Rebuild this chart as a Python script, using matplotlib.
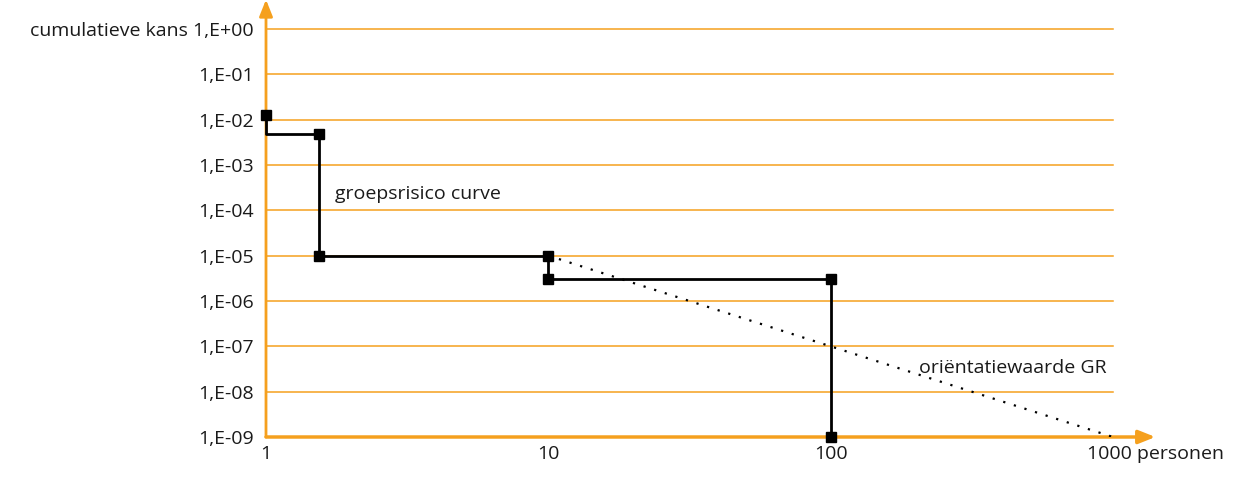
import matplotlib
matplotlib.use("Agg")
from matplotlib import pyplot as plt
from matplotlib import transforms

# step curve (personen, cumulatieve kans)
curve_x = [1, 1, 1.54, 1.54, 10, 10, 100, 100]
curve_y = [1.3e-2, 4.8e-3, 4.8e-3, 1e-5, 1e-5, 3e-6, 3e-6, 1e-9]
marker_x = [1, 1.54, 1.54, 10, 10, 100, 100]
marker_y = [1.3e-2, 4.8e-3, 1e-5, 1e-5, 3e-6, 3e-6, 1e-9]

# orientatiewaarde line
orient_x = [10, 1000]
orient_y = [1e-5, 1e-9]

y_ticks = [10.0 ** -k for k in range(10)]
y_labels = ["cumulatieve kans 1,E+00"] + ["1,E-%02d" % k for k in range(1, 10)]
x_ticks = [1, 10, 100, 1000]
x_labels = ["1", "10", "100", "1000 personen"]

orange = "#F5A01E"
text_col = "#1a1a1a"
fs = 14
plt.rcParams["font.family"] = ["Open Sans", "DejaVu Sans"]

fig = plt.figure(figsize=(12.52, 4.86), dpi=100)
ax = fig.add_axes([266 / 1252, 1 - 437 / 486, (1113 - 266) / 1252, (437 - 29) / 486])
ax.set_xscale("log")
ax.set_yscale("log")
ax.set_xlim(1, 1000)
ax.set_ylim(1e-9, 1)

for y in y_ticks[:-1]:
    ax.axhline(y, color=orange, linewidth=1.1, zorder=1, clip_on=False)

for s in ax.spines.values():
    s.set_visible(False)

# axes with arrows
ax.annotate("", xy=(1.05, 0), xytext=(0, 0), xycoords="axes fraction",
            arrowprops=dict(arrowstyle="-|>,head_length=1.0,head_width=0.4",
                            color=orange, lw=2.5, shrinkA=0, shrinkB=0),
            annotation_clip=False, zorder=2)
ax.annotate("", xy=(0, 1.072), xytext=(0, 0), xycoords="axes fraction",
            arrowprops=dict(arrowstyle="-|>,head_length=1.0,head_width=0.4",
                            color=orange, lw=2, shrinkA=0, shrinkB=0),
            annotation_clip=False, zorder=2)

ax.plot(orient_x, orient_y, color="black", linestyle=(0, (1, 4)), linewidth=1.6, zorder=3)
ax.plot(curve_x, curve_y, color="black", linewidth=2, zorder=4, clip_on=False)
ax.plot(marker_x, marker_y, linestyle="none", marker="s", markersize=6.5,
        color="black", zorder=5, clip_on=False)

ax.set_yticks(y_ticks)
ax.set_yticklabels(y_labels)
ax.set_xticks(x_ticks)
ax.set_xticklabels(x_labels)
ax.minorticks_off()
ax.tick_params(axis="both", length=0, labelsize=fs, colors=text_col)
ax.tick_params(axis="y", pad=9)
ax.tick_params(axis="x", pad=6)

# last x label starts just left of the 1000 position
last = ax.get_xticklabels()[-1]
last.set_horizontalalignment("left")
last.set_transform(last.get_transform() + transforms.ScaledTranslation(-26 / 100, 0, fig.dpi_scale_trans))

ax.text(1.75, 2.3e-4, "groepsrisico curve", fontsize=fs, color=text_col, va="center")
ax.text(205, 3.3e-8, "oriëntatiewaarde GR", fontsize=fs, color=text_col, va="center")

fig.savefig("out.png", dpi=100)
